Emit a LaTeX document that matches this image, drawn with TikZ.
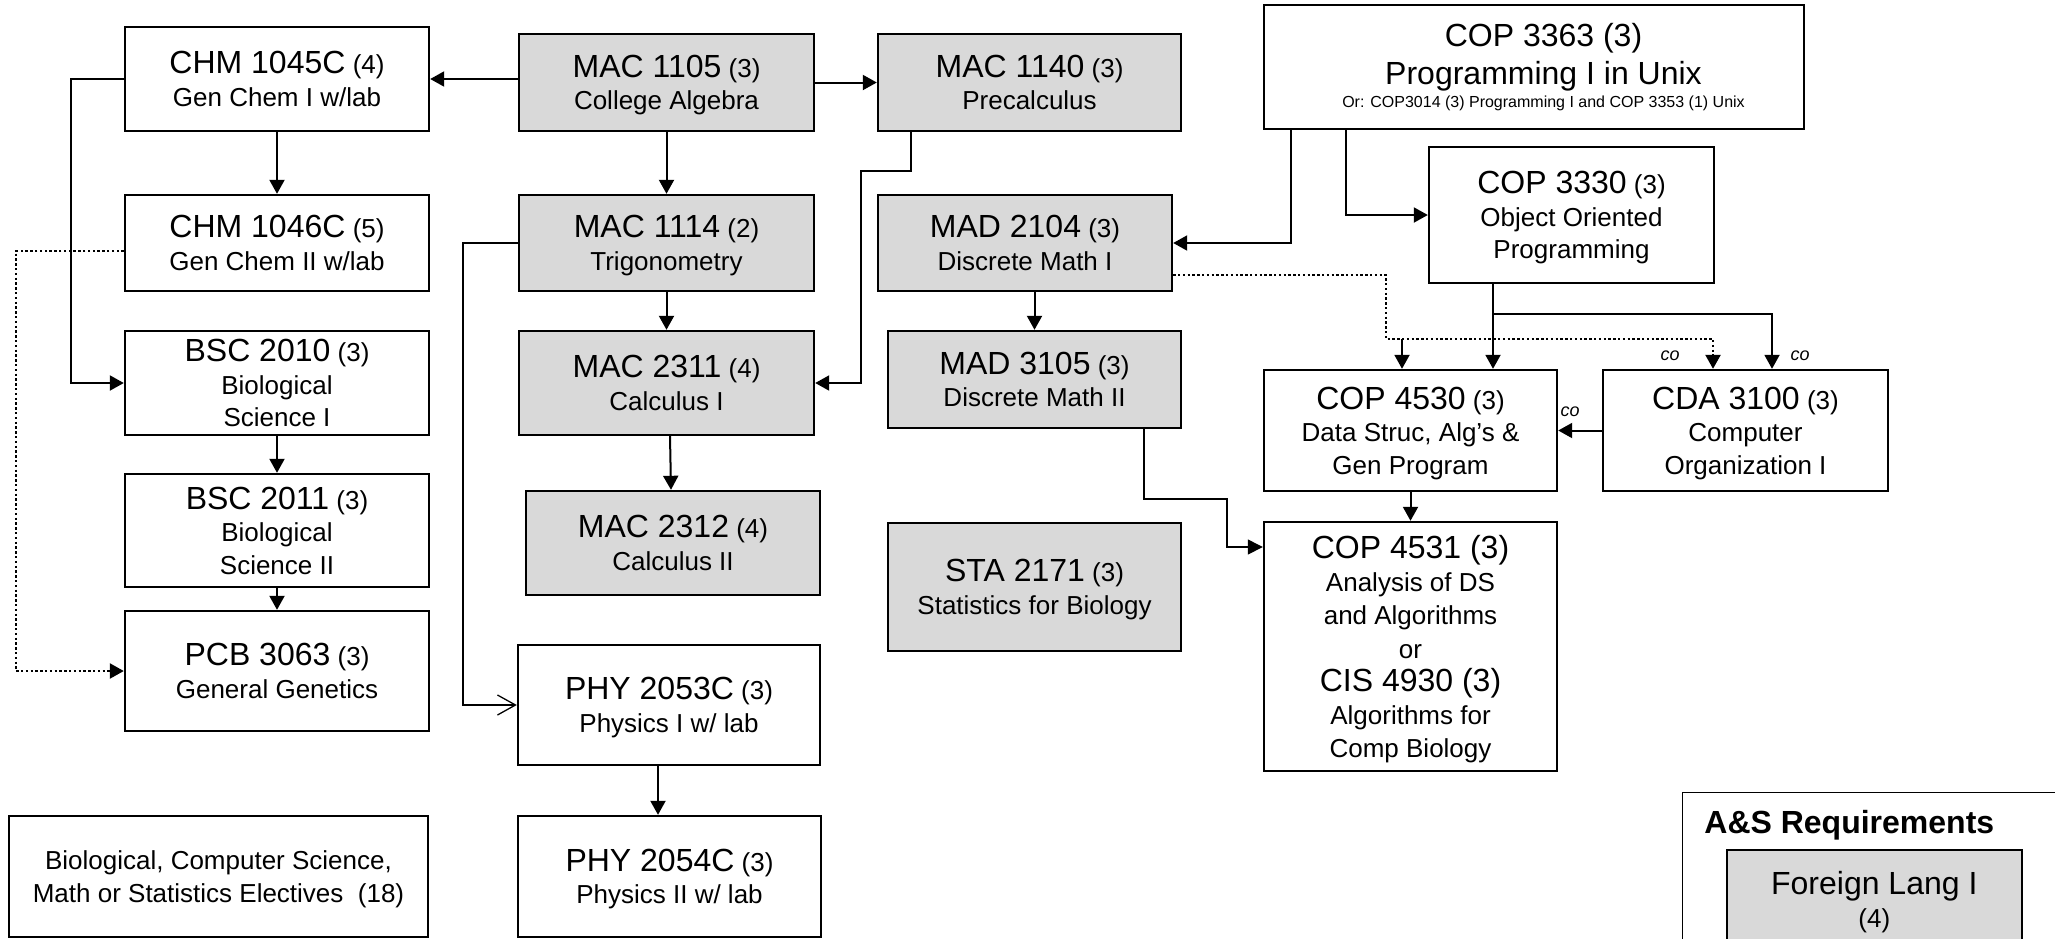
\documentclass[tikz,border=0pt]{standalone}
\usepackage{fontspec}
\setmainfont{Liberation Sans}
\usetikzlibrary{arrows.meta}
\definecolor{boxgray}{RGB}{217,217,217}
\newcommand\ccode[1]{{\fontsize{16}{16.3}\selectfont #1}}
\begin{document}
\begin{tikzpicture}[x=0.5pt,y=-0.5pt,
  box/.style={draw, line width=1.2pt, inner sep=0pt, align=center, text depth=0pt, font=\fontsize{13}{16.3}\selectfont},
  wbox/.style={box, fill=white},
  gbox/.style={box, fill=boxgray},
  sz/.style 2 args={minimum width=#1*0.5pt, minimum height=#2*0.5pt},
  arr/.style={line width=1pt, -{Triangle[length=7pt,width=7.5pt]}},
  thinarr/.style={line width=0.65pt, -{Triangle[length=7.5pt,width=7.5pt]}},
  openarr/.style={line width=0.65pt, -{Straight Barb[length=9pt,width=10pt,line width=0.65pt]}},
  dotline/.style={line width=1.2pt, dash pattern=on 1.2pt off 1.2pt},
  colab/.style={font=\fontsize{9}{10}\selectfont\itshape, inner sep=0pt},
]
\useasboundingbox (0,0) rectangle (2055,938);
\fill[white] (0,0) rectangle (2055,938);

% left column
\node[wbox, sz={304}{104}] (chm1) at (277,79) {\ccode{CHM 1045C} (4)\\Gen Chem I w/lab};
\node[wbox, sz={304}{96}] (chm2) at (277,243) {\ccode{CHM 1046C} (5)\\Gen Chem II w/lab};
\node[wbox, sz={304}{104}] (bsc1) at (277,383) {\ccode{BSC 2010} (3)\\Biological\\Science I};
\node[wbox, sz={304}{113}] (bsc2) at (277,530.5) {\ccode{BSC 2011} (3)\\Biological\\Science II};
\node[wbox, sz={304}{120}] (pcb) at (277,671) {\ccode{PCB 3063} (3)\\General Genetics};
\node[wbox, sz={419}{121}] (elect) at (218.5,876.5) {Biological, Computer Science,\\Math or Statistics Electives\ \ (18)};

% math column
\node[gbox, sz={295}{97}] (mac1105) at (666.5,82.5) {\ccode{MAC 1105} (3)\\College Algebra};
\node[gbox, sz={295}{96}] (mac1114) at (666.5,243) {\ccode{MAC 1114} (2)\\Trigonometry};
\node[gbox, sz={295}{104}] (mac2311) at (666.5,383) {\ccode{MAC 2311} (4)\\Calculus I};
\node[gbox, sz={294}{104}] (mac2312) at (673,543) {\ccode{MAC 2312} (4)\\Calculus II};
\node[wbox, sz={302}{120}] (phy1) at (669,705) {\ccode{PHY 2053C} (3)\\Physics I w/ lab};
\node[wbox, sz={303}{121}] (phy2) at (669.5,876.5) {\ccode{PHY 2054C} (3)\\Physics II w/ lab};

% third column
\node[gbox, sz={303}{97}] (mac1140) at (1029.5,82.5) {\ccode{MAC 1140} (3)\\Precalculus};
\node[gbox, sz={294}{96}] (mad2104) at (1025,243) {\ccode{MAD 2104} (3)\\Discrete Math I};
\node[gbox, sz={293}{97}] (mad3105) at (1034.5,379.5) {\ccode{MAD 3105} (3)\\Discrete Math II};
\node[gbox, sz={293}{128}] (sta) at (1034.5,587) {\ccode{STA 2171} (3)\\Statistics for Biology};

% CS column
\node[wbox, sz={540}{124}] (cop3363) at (1534,67) {};
\node[align=center, inner sep=0pt, font=\fontsize{16}{16.3}\selectfont] (cop3363t) at (1543.5,67.5)
  {COP 3363 (3)\\[2.5pt]Programming I in Unix\\[-4.6pt]{\fontsize{8}{9}\selectfont Or: COP3014 (3) Programming I and COP 3353 (1) Unix}};
\node[wbox, sz={285}{136}] (cop3330) at (1571.5,215) {\ccode{COP 3330} (3)\\Object Oriented\\Programming};
\node[wbox, sz={293}{121}] (cop4530) at (1410.5,430.5) {\ccode{COP 4530} (3)\\Data Struc, Alg’s \&\\Gen Program};
\node[wbox, sz={285}{121}] (cda) at (1745.5,430.5) {\ccode{CDA 3100} (3)\\Computer\\Organization I};
\node[wbox, sz={293}{249}, font=\fontsize{13}{16.6}\selectfont] (cop4531) at (1410.5,646.5)
  {\ccode{COP 4531 (3)}\\Analysis of DS\\and Algorithms\\or\\\ccode{CIS 4930 (3)}\\Algorithms for\\Comp Biology};

% A&S requirements
\node[draw, line width=0.65pt, fill=white, inner sep=0pt, sz={400}{180}, anchor=north west] (asbox) at (1682,792) {};
\node[anchor=base west, inner sep=0pt, font=\fontsize{16}{18}\selectfont\bfseries] (astitle) at (1704,833) {A\&S Requirements};
\node[draw, line width=0.8pt, fill=boxgray, inner sep=0pt, sz={295}{99}, anchor=north west, align=center,
  text depth=0pt, font=\fontsize{13}{16.3}\selectfont] (lang) at (1726,849) {\ccode{Foreign Lang I}\\(4)};

% connectors
\draw[arr] (mac1105.west |- chm1.east) -- (chm1.east);
\draw[arr] (mac1105.east) -- (mac1140.west);
\draw[arr] (mac1105.south) -- (mac1114.north);
\draw[arr] (mac1114.south) -- (mac2311.north);
\draw[arr] ([xshift=1.75pt]mac2311.south) -- ([xshift=-1pt]mac2312.north);
\draw[arr] (mac1140.south -| 911,0) -- (911,171) -- (861,171) |- (mac2311.east);
\draw[openarr] (mac1114.west) -- (463,243) |- (phy1.west);
\draw[arr] (chm1.south) -- (chm2.north);
\draw[arr] (chm1.west) -- (70.5,79) |- (bsc1.west);
\draw[dotline, -{Triangle[length=7pt,width=7.5pt]}] ([yshift=-4pt]chm2.west) -- (16,251) |- (pcb.west);
\draw[arr] (bsc1.south) -- (bsc2.north);
\draw[arr] (bsc2.south) -- (pcb.north);
\draw[arr] (phy1.south -| 658,0) -- (phy2.north -| 658,0);
\draw[arr] (mad2104.south -| mad3105.north) -- (mad3105.north);
\draw[arr] (cop3363.south -| 1291,0) |- (mad2104.east);
\draw[arr] (cop3363.south -| 1346,0) |- (cop3330.west);
\draw[arr] (cop3330.south -| 1493,0) -- (cop4530.north -| 1493,0);
\draw[arr] (cop3330.south -| 1493,0) -- (1493,314) -| (cda.north -| 1772,0);
\draw[dotline, -{Triangle[length=7pt,width=7.5pt]}] (mad2104.east |- 0,275) -- (1386,275) |- (1713,339) -- (cda.north -| 1713,0);
\coordinate (dj) at (1402,339);
\draw[arr] (dj) -- (cop4530.north -| dj);
\draw[arr] (cda.west) -- (cop4530.east);
\draw[arr] (cop4530.south) -- (cop4531.north);
\draw[thinarr] (mad3105.south -| 1144,0) -- (1144,499) -- (1227,499) |- (cop4531.west |- 0,547);

\node[colab] (co1) at (1670,356) {co};
\node[colab] (co2) at (1800,356) {co};
\node[colab] (co3) at (1570,412) {co};
\end{tikzpicture}
\end{document}
